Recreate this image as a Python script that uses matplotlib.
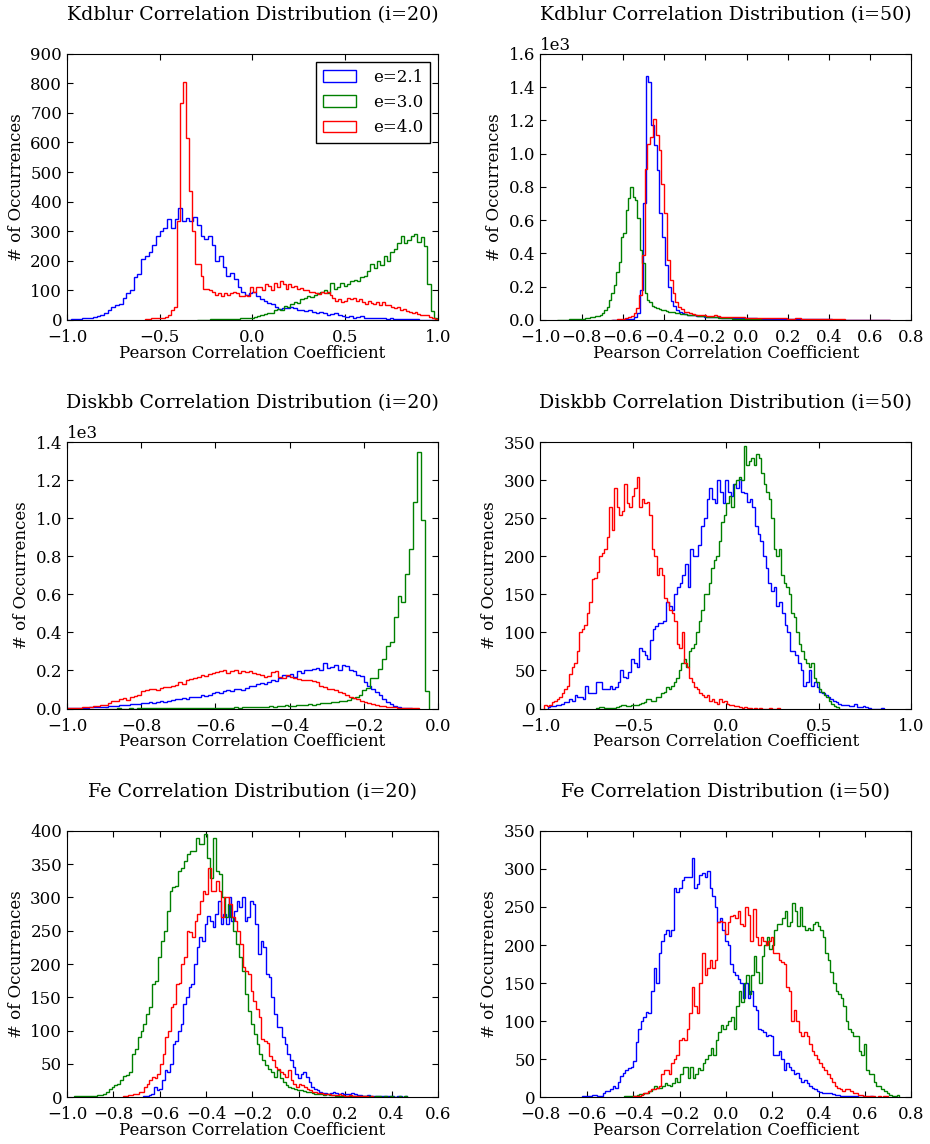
import numpy as np
import matplotlib
matplotlib.use("Agg")
import matplotlib.pyplot as plt
from matplotlib.ticker import MultipleLocator

# histogram counts; each series has its own first edge and bin width
labels = ["e=2.1", "e=3.0", "e=4.0"]
colors = ["#0000ff", "#008000", "#ff0000"]

# Kdblur, i=20
kd20_blue_lo, kd20_blue_w = -1.0, 0.02
kd20_blue = [0, 3, 4, 4, 5, 5, 8, 10, 12, 15,
             25, 35, 45, 50, 55, 75, 92, 100, 145, 155,
             205, 215, 230, 255, 285, 300, 312, 340, 310, 340,
             380, 335, 345, 335, 348, 320, 285, 275, 285, 255,
             200, 215, 180, 150, 160, 140, 110, 95, 85, 90,
             95, 80, 72, 65, 58, 55, 45, 38, 40, 42,
             45, 40, 35, 32, 30, 33, 28, 25, 28, 22,
             18, 20, 25, 18, 14, 10, 12, 8, 10, 12,
             8, 7, 6, 8, 5, 6, 4, 5, 3, 4,
             3, 2, 3, 2, 2, 1, 1, 1, 0, 0]
kd20_green_lo, kd20_green_w = -0.30, 0.018
kd20_green = [1, 1, 1, 1, 2, 2, 2, 2, 3, 3,
              3, 4, 4, 5, 5, 6, 8, 10, 14, 15,
              20, 25, 22, 32, 38, 35, 48, 45, 55, 62,
              58, 72, 75, 80, 78, 85, 90, 95, 100, 90,
              125, 105, 110, 125, 115, 120, 130, 135, 130, 145,
              150, 165, 190, 175, 200, 185, 215, 200, 230, 240,
              260, 285, 260, 270, 285, 290, 265, 280, 250, 120,
              30, 8]
kd20_red_lo, kd20_red_w = -0.58, 0.0158
kd20_red = [3, 4, 5, 5, 6, 8, 8, 10, 15, 35,
            45, 335, 735, 805, 615, 435, 300, 190, 190, 150,
            105, 105, 100, 95, 85, 92, 80, 90, 85, 92,
            95, 90, 82, 80, 85, 80, 110, 95, 110, 110,
            100, 120, 115, 100, 125, 110, 130, 120, 105, 120,
            110, 115, 105, 108, 100, 100, 95, 95, 90, 88,
            95, 90, 95, 85, 75, 65, 70, 60, 65, 75,
            70, 75, 65, 70, 60, 55, 65, 58, 55, 62,
            50, 60, 52, 50, 45, 40, 45, 35, 38, 30,
            28, 25, 28, 20, 18, 15, 18, 10, 8, 3]

# Kdblur, i=50
kd50_blue_lo, kd50_blue_w = -0.652, 0.0135
kd50_blue = [1, 1, 2, 2, 3, 4, 6, 8, 15, 40,
             180, 700, 1465, 1430, 1170, 1050, 900, 640, 500, 330,
             200, 115, 85, 60, 45, 40, 35, 32, 30, 28,
             25, 22, 22, 20, 18, 18, 16, 15, 15, 14,
             13, 13, 12, 12, 11, 11, 10, 10, 10, 9,
             9, 9, 8, 8, 8, 7, 7, 7, 6, 6,
             6, 6, 5, 5, 5, 6, 5, 4, 4, 4,
             4, 4, 3, 3, 3, 3, 3, 3, 3, 2,
             2, 2, 2, 2, 2, 2, 1, 1, 1, 1,
             1, 1, 1, 1, 1, 1, 0, 0, 1, 0]
kd50_green_lo, kd50_green_w = -0.92, 0.0115
kd50_green = [1, 1, 2, 2, 2, 3, 3, 4, 5, 6,
              7, 8, 10, 12, 15, 18, 22, 25, 30, 40,
              60, 80, 120, 160, 210, 290, 350, 500, 520, 660,
              730, 800, 740, 720, 610, 420, 340, 160, 120, 110,
              85, 75, 70, 65, 62, 60, 55, 50, 48, 45,
              42, 40, 38, 36, 34, 32, 30, 28, 27, 25,
              24, 22, 21, 20, 18, 17, 16, 15, 14, 13,
              12, 11, 10, 9, 8, 8, 7, 6, 6, 5,
              5, 4, 4, 3, 3, 3, 2, 2, 2, 1, 1]
kd50_red_lo, kd50_red_w = -0.656, 0.0135
kd50_red = [1, 2, 3, 4, 6, 10, 15, 25, 40, 70,
            150, 390, 910, 1060, 1100, 1210, 1110, 1020, 820, 640,
            360, 240, 160, 110, 80, 65, 50, 45, 40, 35,
            32, 30, 28, 27, 25, 24, 22, 30, 22, 20,
            18, 18, 17, 17, 16, 16, 15, 15, 14, 14,
            13, 13, 12, 12, 12, 11, 11, 10, 10, 10,
            9, 9, 9, 8, 8, 8, 12, 9, 7, 7,
            6, 6, 6, 5, 5, 5, 4, 4, 4, 3,
            3, 3, 3, 3, 2, 2, 2, 2, 2, 1,
            1, 1, 1, 1, 1, 1, 1, 0, 1, 1]

# Diskbb, i=20
db20_blue_lo, db20_blue_w = -1.0, 0.01
db20_blue = [1, 2, 3, 3, 4, 5, 6, 6, 7, 8,
             10, 12, 14, 15, 18, 20, 20, 22, 25, 25,
             28, 30, 32, 30, 35, 38, 35, 40, 45, 48,
             50, 55, 52, 58, 62, 60, 70, 65, 72, 80,
             85, 80, 90, 95, 92, 100, 105, 98, 110, 118,
             120, 128, 135, 130, 140, 150, 145, 160, 175, 170,
             180, 165, 195, 185, 205, 200, 210, 215, 205, 240,
             215, 220, 230, 205, 230, 225, 200, 195, 175, 170,
             140, 120, 105, 85, 70, 48, 35, 22, 12, 6,
             3, 1, 1]
db20_green_lo, db20_green_w = -0.8965, 0.0105
db20_green = [0, 0, 0, 1, 0, 0, 1, 0, 1, 1,
              1, 1, 1, 1, 1, 2, 1, 2, 2, 2,
              2, 2, 3, 2, 3, 3, 4, 3, 4, 4,
              4, 5, 5, 6, 5, 7, 6, 8, 7, 8,
              8, 9, 11, 10, 12, 12, 16, 14, 15, 20,
              18, 18, 22, 20, 25, 28, 30, 30, 32, 35,
              38, 42, 45, 55, 60, 70, 95, 110, 160, 160,
              210, 260, 330, 350, 480, 590, 560, 710, 840, 1085,
              1350, 990, 90]
db20_red_lo, db20_red_w = -1.0, 0.01
db20_red = [2, 3, 4, 5, 6, 8, 10, 12, 15, 18,
            20, 30, 40, 38, 50, 55, 45, 60, 65, 70,
            92, 95, 100, 105, 98, 110, 115, 112, 120, 125,
            140, 130, 150, 155, 160, 165, 175, 170, 180, 185,
            190, 195, 200, 185, 195, 200, 185, 198, 190, 195,
            185, 180, 175, 165, 170, 190, 195, 165, 160, 175,
            165, 160, 155, 150, 148, 150, 145, 140, 120, 115,
            105, 100, 95, 85, 80, 70, 60, 55, 50, 40,
            35, 30, 25, 20, 15, 12, 10, 8, 6, 4,
            3, 2, 2, 1, 1]

# Diskbb, i=50
db50_blue_lo, db50_blue_w = -0.96, 0.0145
db50_blue = [2, 3, 3, 5, 5, 6, 8, 8, 12, 10,
             18, 15, 15, 12, 30, 20, 20, 20, 35, 35,
             25, 25, 25, 30, 25, 28, 35, 50, 42, 40,
             48, 65, 60, 55, 80, 75, 70, 65, 90, 105,
             108, 112, 112, 115, 140, 135, 130, 150, 160, 165,
             175, 190, 160, 210, 200, 200, 215, 240, 250, 275,
             290, 275, 270, 300, 285, 270, 300, 285, 280, 295,
             290, 302, 285, 283, 272, 275, 265, 240, 230, 220,
             200, 185, 165, 155, 160, 135, 140, 125, 110, 100,
             75, 75, 70, 60, 50, 30, 35, 50, 30, 35,
             28, 22, 20, 18, 15, 12, 10, 8, 6, 5,
             5, 4, 3, 3, 6, 2, 2, 3, 2, 1,
             0, 0, 0, 0, 1]
db50_green_lo, db50_green_w = -0.70, 0.0135
db50_green = [1, 2, 2, 1, 1, 1, 1, 1, 2, 3,
              5, 4, 3, 3, 4, 5, 5, 6, 7, 8,
              12, 12, 10, 10, 15, 15, 20, 22, 28, 25,
              30, 35, 40, 50, 60, 65, 55, 75, 80, 85,
              100, 115, 130, 150, 150, 165, 185, 195, 200, 220,
              245, 255, 270, 280, 265, 295, 300, 305, 300, 345,
              320, 325, 330, 320, 335, 330, 310, 295, 285, 275,
              250, 210, 200, 210, 175, 165, 160, 150, 125, 120,
              100, 85, 75, 65, 60, 55, 60, 40, 35, 25,
              22, 18, 15, 10, 6, 3, 2]
db50_red_lo, db50_red_w = -0.98, 0.0135
db50_red = [5, 3, 5, 8, 10, 12, 15, 20, 25, 30,
            45, 55, 60, 75, 100, 105, 110, 125, 140, 170,
            172, 180, 200, 205, 210, 225, 265, 235, 290, 265,
            255, 260, 295, 270, 265, 280, 290, 305, 265, 275,
            270, 272, 255, 210, 200, 175, 185, 175, 145, 140,
            130, 125, 115, 85, 80, 100, 60, 55, 40, 35,
            28, 25, 20, 18, 15, 18, 10, 12, 8, 6,
            12, 8, 10, 6, 4, 5, 3, 3, 2, 1,
            2, 1, 1, 0, 1, 0, 1, 0, 0, 0,
            1, 0, 0, 1]

# Fe, i=20
fe20_blue_lo, fe20_blue_w = -0.67, 0.0115
fe20_blue = [1, 2, 3, 5, 15, 10, 12, 25, 40, 38,
             50, 80, 85, 100, 110, 140, 150, 165, 170, 200,
             225, 240, 235, 260, 272, 265, 255, 275, 295, 260,
             275, 260, 300, 265, 280, 295, 285, 300, 265, 270,
             295, 290, 260, 215, 235, 225, 185, 180, 150, 125,
             105, 105, 90, 80, 65, 55, 45, 35, 28, 35,
             37, 30, 22, 15, 12, 10, 8, 6, 6, 5,
             6, 8, 6, 5, 6, 5, 4, 4, 6, 5,
             3, 3, 2, 2, 3, 2, 2, 2, 1, 2,
             1, 1, 1, 1, 0, 1, 1, 0, 1]
fe20_green_lo, fe20_green_w = -0.97, 0.0125
fe20_green = [1, 1, 1, 1, 1, 2, 2, 2, 3, 3,
              5, 8, 12, 15, 18, 20, 25, 32, 33, 38,
              65, 72, 90, 100, 110, 125, 135, 170, 175, 210,
              235, 250, 280, 310, 315, 317, 340, 345, 355, 365,
              370, 370, 390, 380, 380, 395, 360, 330, 390, 340,
              335, 300, 270, 290, 270, 250, 230, 210, 190, 155,
              130, 110, 95, 80, 65, 55, 48, 42, 38, 30,
              40, 28, 22, 18, 15, 14, 12, 10, 10, 9,
              8, 7, 6, 5, 5, 4, 3, 4, 3, 3,
              2, 2, 2, 2, 2, 1, 2, 1, 1, 1,
              1, 1, 1, 0, 1, 1, 0, 1, 0, 1,
              0, 0, 1, 0, 1]
fe20_red_lo, fe20_red_w = -0.76, 0.0115
fe20_red = [2, 2, 3, 3, 5, 4, 8, 7, 15, 20,
            25, 30, 28, 35, 50, 65, 90, 100, 135, 140,
            170, 172, 200, 210, 250, 248, 240, 265, 275, 295,
            310, 305, 345, 310, 310, 325, 310, 270, 300, 300,
            290, 270, 265, 250, 230, 195, 190, 185, 160, 145,
            132, 120, 88, 85, 82, 62, 55, 45, 42, 38,
            35, 30, 40, 25, 20, 15, 20, 18, 15, 12,
            10, 8, 7, 6, 6, 5, 5, 4, 3, 3,
            3, 4, 3, 2, 2, 3, 2, 1, 2, 1,
            1, 1, 0, 1]

# Fe, i=50
fe50_blue_lo, fe50_blue_w = -0.62, 0.011
fe50_blue = [1, 1, 2, 2, 3, 3, 2, 2, 5, 8,
             8, 10, 15, 12, 20, 28, 32, 35, 38, 40,
             48, 72, 90, 100, 105, 112, 110, 140, 170, 150,
             190, 205, 215, 220, 212, 220, 275, 270, 275, 285,
             290, 290, 290, 315, 275, 280, 292, 295, 290, 297,
             275, 265, 250, 230, 235, 220, 205, 200, 175, 165,
             160, 155, 150, 130, 150, 130, 140, 120, 115, 90,
             88, 85, 80, 82, 80, 55, 55, 60, 50, 35,
             45, 40, 35, 30, 32, 25, 20, 22, 18, 15,
             12, 10, 8, 7, 6, 6, 5, 5, 4, 3,
             3, 2, 2, 2, 1, 1, 1, 1, 0, 0,
             1, 0, 0, 1]
fe50_green_lo, fe50_green_w = -0.44, 0.011
fe50_green = [1, 1, 1, 2, 2, 3, 4, 4, 5, 6,
              8, 10, 15, 12, 12, 15, 18, 16, 15, 18,
              25, 20, 30, 40, 40, 25, 40, 25, 30, 38,
              35, 45, 50, 55, 65, 55, 75, 85, 95, 90,
              95, 100, 105, 90, 120, 140, 125, 150, 160, 135,
              160, 185, 165, 150, 185, 200, 210, 195, 200, 220,
              228, 228, 235, 245, 225, 230, 255, 245, 225, 250,
              225, 220, 222, 220, 228, 230, 225, 220, 210, 190,
              180, 165, 150, 140, 135, 130, 120, 100, 90, 85,
              80, 80, 60, 55, 70, 35, 30, 30, 20, 15,
              15, 10, 8, 5, 3, 2, 2, 3]
fe50_red_lo, fe50_red_w = -0.40, 0.011
fe50_red = [1, 2, 2, 3, 5, 5, 8, 10, 10, 12,
            15, 30, 35, 35, 30, 45, 50, 55, 75, 78,
            75, 90, 110, 145, 120, 110, 150, 190, 160, 170,
            180, 170, 180, 230, 232, 230, 215, 230, 238, 240,
            235, 245, 228, 225, 250, 240, 205, 248, 210, 200,
            210, 205, 200, 205, 210, 190, 190, 180, 178, 175,
            145, 140, 100, 115, 100, 85, 80, 85, 80, 70,
            60, 55, 50, 45, 40, 35, 30, 25, 20, 15,
            12, 10, 8, 10, 10, 8, 6, 5, 3, 3,
            2, 2, 1, 1, 1, 0, 1, 0, 1, 1]

titles = ["Kdblur Correlation Distribution (i=20)", "Kdblur Correlation Distribution (i=50)",
          "Diskbb Correlation Distribution (i=20)", "Diskbb Correlation Distribution (i=50)",
          "Fe Correlation Distribution (i=20)", "Fe Correlation Distribution (i=50)"]

panels = [
    [(kd20_blue_lo, kd20_blue_w, kd20_blue), (kd20_green_lo, kd20_green_w, kd20_green), (kd20_red_lo, kd20_red_w, kd20_red)],
    [(kd50_blue_lo, kd50_blue_w, kd50_blue), (kd50_green_lo, kd50_green_w, kd50_green), (kd50_red_lo, kd50_red_w, kd50_red)],
    [(db20_blue_lo, db20_blue_w, db20_blue), (db20_green_lo, db20_green_w, db20_green), (db20_red_lo, db20_red_w, db20_red)],
    [(db50_blue_lo, db50_blue_w, db50_blue), (db50_green_lo, db50_green_w, db50_green), (db50_red_lo, db50_red_w, db50_red)],
    [(fe20_blue_lo, fe20_blue_w, fe20_blue), (fe20_green_lo, fe20_green_w, fe20_green), (fe20_red_lo, fe20_red_w, fe20_red)],
    [(fe50_blue_lo, fe50_blue_w, fe50_blue), (fe50_green_lo, fe50_green_w, fe50_green), (fe50_red_lo, fe50_red_w, fe50_red)],
]

xlims = [(-1.0, 1.0), (-1.0, 0.8), (-1.0, 0.0), (-1.0, 1.0), (-1.0, 0.6), (-0.8, 0.8)]
xsteps = [0.5, 0.2, 0.2, 0.5, 0.2, 0.2]
ylims = [900, 1600, 1400, 350, 400, 350]
ysteps = [100, 200, 200, 50, 50, 50]

plt.rcParams.update({
    "font.family": "DejaVu Serif",
    "font.size": 12,
    "xtick.direction": "in",
    "ytick.direction": "in",
    "xtick.top": True,
    "ytick.right": True,
    "xtick.major.size": 4,
    "ytick.major.size": 4,
    "xtick.major.pad": 6.5,
    "axes.formatter.limits": [-3, 3],
    "legend.fancybox": False,
    "legend.edgecolor": "black",
    "legend.framealpha": 1.0,
})

fig, axes = plt.subplots(3, 2, figsize=(9.3, 11.44), dpi=100)
fig.subplots_adjust(left=0.072, right=0.98, bottom=0.041, top=0.953, wspace=0.276, hspace=0.46)

for i, ax in enumerate(axes.flat):
    for (lo, w, counts), c, lab in zip(panels[i], colors, labels):
        counts = np.array(counts, dtype=float)
        edges = lo + w * np.arange(len(counts) + 1)
        ax.hist(edges[:-1], bins=edges, weights=counts, histtype="step",
                color=c, lw=1.0, label=lab)
    ax.set_xlim(*xlims[i])
    ax.set_ylim(0, ylims[i])
    ax.xaxis.set_major_locator(MultipleLocator(xsteps[i]))
    ax.yaxis.set_major_locator(MultipleLocator(ysteps[i]))
    ax.set_title(titles[i], fontsize=13.7, pad=24.5)
    ax.set_xlabel("Pearson Correlation Coefficient", labelpad=-1)
    ax.set_ylabel("# of Occurrences")
    if i == 0:
        ax.legend(loc="upper right", fontsize=12, borderaxespad=0.5, handletextpad=1.0)

fig.savefig("out.png", dpi=100)
